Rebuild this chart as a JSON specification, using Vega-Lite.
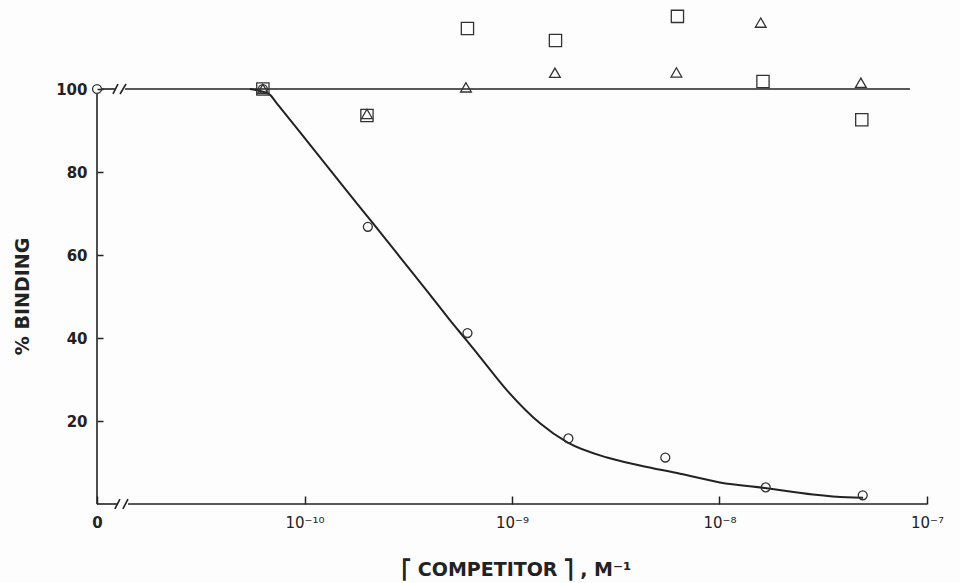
{
  "$schema": "https://vega.github.io/schema/vega-lite/v6.json",
  "width": 830,
  "height": 498,
  "autosize": {"type": "none"},
  "padding": {"left": 97, "top": 6, "right": 33, "bottom": 79},
  "background": "#fdfdfd",
  "config": {
    "view": {"stroke": null},
    "font": "DejaVu Sans",
    "axis": {"grid": false, "domain": false, "tickColor": "#222", "tickWidth": 1.5, "labelColor": "#222", "titleColor": "#222"}
  },
  "datasets": {
    "segments": [
      {"part": "yaxis", "x": 1e-11, "x2": 1e-11, "y": 0, "y2": 98.8},
      {"part": "xaxis1", "x": 1e-11, "x2": 1.248e-11, "y": 0, "y2": 0},
      {"part": "xaxis2", "x": 1.41e-11, "x2": 1e-7, "y": 0, "y2": 0},
      {"part": "xslash1", "x": 1.22e-11, "x2": 1.29e-11, "y": -1.2, "y2": 1.2},
      {"part": "xslash2", "x": 1.333e-11, "x2": 1.41e-11, "y": -1.2, "y2": 1.2},
      {"part": "line1", "x": 1.057e-11, "x2": 1.22e-11, "y": 100, "y2": 100},
      {"part": "line2", "x": 1.365e-11, "x2": 8.28e-8, "y": 100, "y2": 100},
      {"part": "slash1", "x": 1.194e-11, "x2": 1.262e-11, "y": 98.8, "y2": 101.2},
      {"part": "slash2", "x": 1.291e-11, "x2": 1.38e-11, "y": 98.8, "y2": 101.2}
    ],
    "curve": [
      {"x": 5.46e-11, "y": 100},
      {"x": 6.24e-11, "y": 99.4},
      {"x": 6.82e-11, "y": 98.6},
      {"x": 7.29e-11, "y": 96.8},
      {"x": 9.51e-11, "y": 89.6},
      {"x": 1.483e-10, "y": 77.5},
      {"x": 2.14e-10, "y": 67.6},
      {"x": 2.884e-10, "y": 59.5},
      {"x": 4.03e-10, "y": 50.4},
      {"x": 5.02e-10, "y": 44.3},
      {"x": 6.07e-10, "y": 39.3},
      {"x": 7.02e-10, "y": 35.4},
      {"x": 9.46e-10, "y": 27.4},
      {"x": 1.365e-9, "y": 19.45},
      {"x": 1.84e-9, "y": 14.9},
      {"x": 2.87e-9, "y": 11.2},
      {"x": 4.14e-9, "y": 9.3},
      {"x": 6.46e-9, "y": 7.3},
      {"x": 1.005e-8, "y": 5.2},
      {"x": 1.69e-8, "y": 3.8},
      {"x": 2.82e-8, "y": 2.3},
      {"x": 4.11e-8, "y": 1.6},
      {"x": 4.92e-8, "y": 1.5}
    ],
    "points": [
      {"series": "circle", "x": 1e-11, "y": 100},
      {"series": "circle", "x": 6.3e-11, "y": 100},
      {"series": "circle", "x": 2.02e-10, "y": 66.8},
      {"series": "circle", "x": 6.1e-10, "y": 41.2},
      {"series": "circle", "x": 1.87e-9, "y": 15.8},
      {"series": "circle", "x": 5.48e-9, "y": 11.2},
      {"series": "circle", "x": 1.67e-8, "y": 4.0},
      {"series": "circle", "x": 4.9e-8, "y": 2.1},
      {"series": "triangle", "x": 6.3e-11, "y": 100},
      {"series": "triangle", "x": 2.0e-10, "y": 94},
      {"series": "triangle", "x": 6.0e-10, "y": 100.4},
      {"series": "triangle", "x": 1.61e-9, "y": 103.9},
      {"series": "triangle", "x": 6.2e-9, "y": 104},
      {"series": "triangle", "x": 1.58e-8, "y": 116},
      {"series": "triangle", "x": 4.8e-8, "y": 101.5},
      {"series": "square", "x": 6.3e-11, "y": 100},
      {"series": "square", "x": 2.0e-10, "y": 93.6},
      {"series": "square", "x": 6.1e-10, "y": 114.6},
      {"series": "square", "x": 1.62e-9, "y": 111.7},
      {"series": "square", "x": 6.27e-9, "y": 117.5},
      {"series": "square", "x": 1.62e-8, "y": 101.8},
      {"series": "square", "x": 4.85e-8, "y": 92.6}
    ]
  },
  "layer": [
    {
      "data": {"name": "segments"},
      "mark": {"type": "rule", "color": "#222", "strokeWidth": 1.6},
      "encoding": {
        "x": {
          "field": "x", "type": "quantitative",
          "scale": {"type": "log", "domain": [1e-11, 1e-7], "nice": false},
          "axis": {
            "values": [1e-11, 1e-10, 1e-9, 1e-8, 1e-7],
            "labelExpr": "datum.value < 2e-11 ? '0' : datum.value < 2e-10 ? '10⁻¹⁰' : datum.value < 2e-9 ? '10⁻⁹' : datum.value < 2e-8 ? '10⁻⁸' : '10⁻⁷'",
            "tickSize": -8,
            "labelPadding": 19,
            "labelFontSize": 15,
            "labelFontWeight": {"condition": {"test": "datum.value < 2e-11", "value": "bold"}, "value": "normal"},
            "labelFlush": false,
            "labelOverlap": false,
            "title": "⎡ COMPETITOR ⎤ , M⁻¹",
            "titleFontSize": 19,
            "titleFontWeight": "bold",
            "titleBaseline": "alphabetic",
            "titleY": 71,
            "titleX": 419
          }
        },
        "x2": {"field": "x2"},
        "y": {
          "field": "y", "type": "quantitative",
          "scale": {"domain": [0, 120], "nice": false},
          "axis": {
            "values": [20, 40, 60, 80, 100],
            "tickSize": -6,
            "labelPadding": 16,
            "labelFontSize": 15,
            "labelFontWeight": "bold",
            "title": "% BINDING",
            "titleFontSize": 19,
            "titleFontWeight": "bold",
            "titleX": -69,
            "titleY": 290,
            "titleAngle": -90,
            "titleBaseline": "alphabetic"
          }
        },
        "y2": {"field": "y2"}
      }
    },
    {
      "data": {"name": "curve"},
      "mark": {"type": "line", "color": "#222", "strokeWidth": 2, "interpolate": "monotone"},
      "encoding": {
        "x": {"field": "x", "type": "quantitative"},
        "y": {"field": "y", "type": "quantitative"}
      }
    },
    {
      "data": {"name": "points"},
      "mark": {"type": "point", "filled": false, "stroke": "#333", "strokeWidth": 1.3, "opacity": 1},
      "encoding": {
        "x": {"field": "x", "type": "quantitative"},
        "y": {"field": "y", "type": "quantitative"},
        "shape": {"field": "series", "type": "nominal", "scale": {"domain": ["circle", "triangle", "square"], "range": ["circle", "triangle-up", "square"]}, "legend": null},
        "size": {"field": "series", "type": "nominal", "scale": {"domain": ["circle", "triangle", "square"], "range": [80, 150, 120]}, "legend": null}
      }
    }
  ]
}
